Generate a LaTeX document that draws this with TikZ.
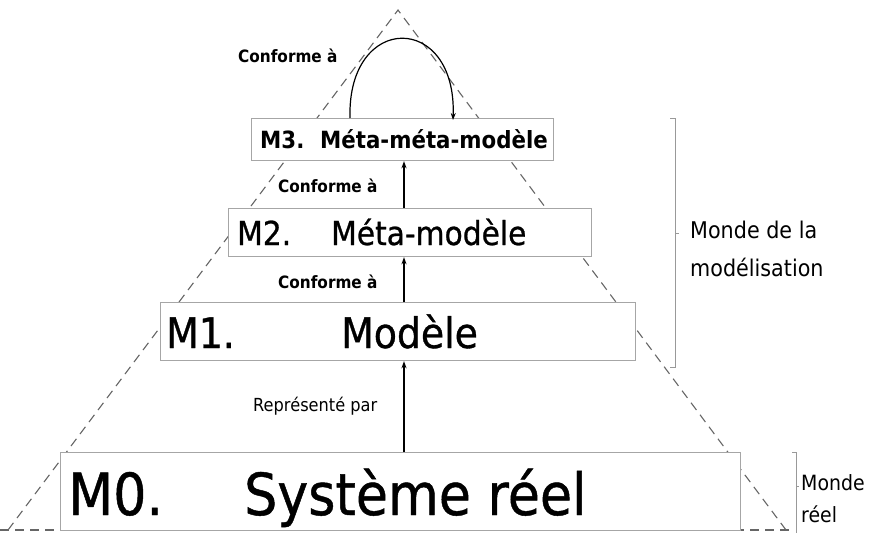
\documentclass[tikz,border=0pt]{standalone}
\usepackage{fontspec}
\setmainfont[FakeStretch=0.9]{DejaVu Sans}
\newfontfamily\boxfont[FakeStretch=0.9, FakeBold=0.8]{DejaVu Sans}
\usetikzlibrary{arrows.meta}
\begin{document}
\begin{tikzpicture}[x=1pt,y=-1pt,
  box/.style={draw=black!35, fill=white, line width=1.2pt, inner sep=0},
  pyr/.style={draw=black!60, line width=1.1pt, dash pattern=on 9pt off 6pt},
  arr/.style={-{Stealth[length=7pt,width=5pt]}, line width=1.2pt, black},
  brk/.style={draw=black!40, line width=0.9pt},
  lbl/.style={font=\fontsize{17}{19}\selectfont\bfseries, inner sep=0, anchor=base west},
  txt/.style={inner sep=0, anchor=base west}
]
\useasboundingbox (0,0) rectangle (887,533);

% pyramid
\coordinate (apex) at (398,10);
\coordinate (bl) at (8,530);
\coordinate (br) at (786,530);
\coordinate (b0) at (0,530);
\coordinate (b1) at (792,530);
\draw[pyr] (bl) -- (apex) -- (br);
\draw[pyr] (b0) -- (b1);

% boxes
\node[box, minimum width=302, minimum height=42, anchor=north west] (m3) at (251,118) {};
\node[box, minimum width=363, minimum height=48, anchor=north west] (m2) at (228,208) {};
\node[box, minimum width=475, minimum height=58, anchor=north west] (m1) at (160,302) {};
\node[box, minimum width=680, minimum height=78, anchor=north west] (m0) at (60,452) {};

% box texts
\node[txt, font=\fontsize{23.7}{26}\selectfont\bfseries] (m3a) at (260,148) {M3.};
\node[txt, font=\fontsize{23.7}{26}\selectfont\bfseries] (m3b) at (320,148) {Méta-méta-modèle};
\node[txt, font=\boxfont\fontsize{33}{36}\selectfont] (m2a) at (237,245) {M2.};
\node[txt, font=\boxfont\fontsize{33}{36}\selectfont] (m2b) at (331,245) {Méta-modèle};
\node[txt, font=\boxfont\fontsize{42}{45}\selectfont] (m1a) at (166,348) {M1.};
\node[txt, font=\boxfont\fontsize{42}{45}\selectfont] (m1b) at (341,348) {Modèle};
\node[txt, font=\boxfont\fontsize{58}{62}\selectfont] (m0a) at (68,515) {M0.};
\node[txt, font=\boxfont\fontsize{58}{62}\selectfont] (m0b) at (244,515) {Système réel};

% arrows
\coordinate (ax) at (404,0);
\draw[arr] (m0.north -| ax) -- (m1.south -| ax);
\draw[arr] (m1.north -| ax) -- (m2.south -| ax);
\draw[arr] (m2.north -| ax) -- (m3.south -| ax);
\coordinate (la) at (350,0);
\coordinate (lb) at (453,0);
\draw[arr] (m3.north -| la) .. controls (347,12) and (457,12) .. ([yshift=-2pt]m3.north -| lb);

% arrow labels
\node[lbl] (c3) at (238,62) {Conforme à};
\node[lbl] (c2) at (278,192) {Conforme à};
\node[lbl] (c1) at (278,288) {Conforme à};
\node[txt, font=\fontsize{18}{20}\selectfont] (rp) at (253,411) {Représenté par};

% brackets
\coordinate (t1) at (675,118);
\coordinate (u1) at (675,367);
\coordinate (v1) at (675,233);
\draw[brk] ([xshift=-5pt]t1) -- (t1) -- (u1) -- ([xshift=-5pt]u1);
\draw[brk] (v1) -- ([xshift=4pt]v1);
\node[inner sep=0, anchor=west, align=left, font=\fontsize{23}{38}\selectfont] (mm) at (690,249) {Monde de la\\modélisation};

\coordinate (t2) at (796,452);
\coordinate (u2) at (796,540);
\coordinate (v2) at (796,486);
\draw[brk] ([xshift=-4pt]t2) -- (t2) -- (u2);
\draw[brk] (v2) -- ([xshift=3pt]v2);
\node[inner sep=0, anchor=west, align=left, font=\fontsize{21}{32}\selectfont] (mr) at (801,499) {Monde\\réel};
\end{tikzpicture}
\end{document}
